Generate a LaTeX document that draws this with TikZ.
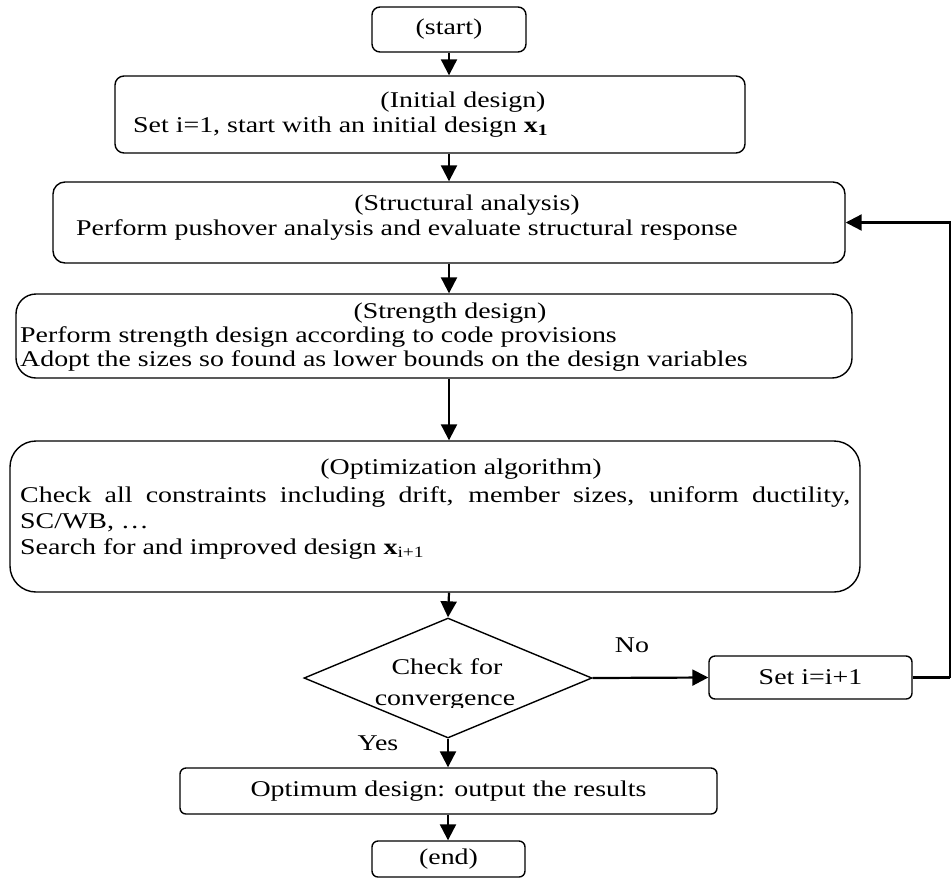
\documentclass[tikz,border=0pt]{standalone}
\usepackage{fontspec}
\setmainfont{Liberation Serif}[FakeStretch=1.24]
\usetikzlibrary{shapes.geometric,arrows.meta}
\begin{document}
\begin{tikzpicture}[x=1pt,y=-1pt,
  box/.style={draw, line width=1.4pt, inner sep=0pt, rounded corners=#1,
              font=\fontsize{22.5}{25}\selectfont},
  box/.default=8pt,
  txt/.style={inner sep=0pt, anchor=base, font=\fontsize{22.5}{25}\selectfont},
  txtl/.style={txt, anchor=base west},
  arr/.style={line width=2.2pt, -{Triangle[length=16pt,width=16pt]}},
  lin/.style={line width=2.2pt}]
\useasboundingbox (0,0) rectangle (952,879);

% boxes
\node[box=8pt, minimum width=154pt, minimum height=45pt] (start) at (449,29.5) {(start)};
\node[box=9pt, minimum width=630pt, minimum height=77pt] (init) at (430,114.5) {};
\node[box=12pt, minimum width=792pt, minimum height=81pt] (struct) at (449,222.5) {};
\node[box=20pt, minimum width=836pt, minimum height=84pt] (strength) at (434,336) {};
\node[box=26pt, minimum width=850pt, minimum height=151pt] (opt) at (435,516.5) {};
\node[draw, line width=1.4pt, shape=diamond, inner sep=0pt, minimum width=288pt, minimum height=120pt] (conv) at (448,678) {};
\node[box=6pt, minimum width=203pt, minimum height=43pt] (set) at (810.5,677.5) {Set i=i+1};
\node[box=6pt, minimum width=537pt, minimum height=46pt] (opti) at (448.5,791) {Optimum design: output the results};
\node[box=6pt, minimum width=153pt, minimum height=36pt] (end) at (448.5,859) {(end)};

% texts
\node[txt] (t1) at (463,107) {(Initial design)};
\node[txtl] (t2) at (133,132) {Set i=1, start with an initial design \textbf{x}\textsubscript{\textbf{1}}};
\node[txt] (t3) at (467,210) {(Structural analysis)};
\node[txtl] (t4) at (76,235) {Perform pushover analysis and evaluate structural response};
\node[txt] (t5) at (450,318) {(Strength design)};
\node[txtl] (t6) at (20,342) {Perform strength design according to code provisions};
\node[txtl] (t7) at (20,366) {Adopt the sizes so found as lower bounds on the design variables};
\node[txt] (t8) at (461,474) {(Optimization algorithm)};
\node[txtl] (t9) at (20,502) {\makebox[830pt][s]{Check all constraints including drift, member sizes, uniform ductility,}};
\node[txtl] (t10) at (20,528) {SC/WB, \ldots};
\node[txtl] (t11) at (20,554) {Search for and improved design \textbf{x}\textsubscript{i+1}};
\begin{scope}
  \clip (300,600) rectangle (600,707);
  \node[txt] (t12) at (447,674) {Check for};
  \node[txt] (t13) at (445,705) {convergence};
\end{scope}
\node[txt] (no) at (632,652) {No};
\node[txt] (yes) at (378,750) {Yes};

% connectors
\draw[arr] (start.south) -- (start.south |- init.north);
\draw[arr] (start.south |- init.south) -- (start.south |- struct.north);
\draw[arr] (start.south |- struct.south) -- (start.south |- strength.north);
\draw[arr] (start.south |- strength.south) -- (start.south |- opt.north);
\draw[arr] (start.south |- opt.south) -- (conv.north);
\draw[arr] (conv.east) -- (set.west);
\coordinate (loop) at (950,677.5);
\draw[lin] (set.east) -- (loop);
\draw[arr] (loop) |- (struct.east);
\draw[arr] (conv.south) -- (conv.south |- opti.north);
\draw[arr] (conv.south |- opti.south) -- (conv.south |- end.north);
\end{tikzpicture}
\end{document}
